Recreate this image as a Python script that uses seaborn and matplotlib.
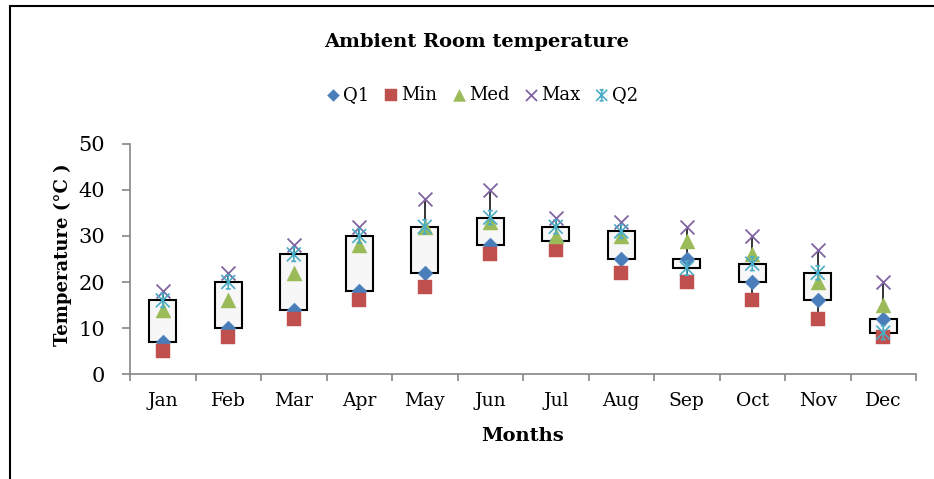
import numpy as np
import pandas as pd
import matplotlib
matplotlib.use("Agg")
import matplotlib.pyplot as plt
from matplotlib.path import Path
from matplotlib.lines import Line2D
import seaborn as sns

# ---- data ----
months = ["Jan", "Feb", "Mar", "Apr", "May", "Jun", "Jul", "Aug", "Sep", "Oct", "Nov", "Dec"]
q1 = [7, 10, 14, 18, 22, 28, 29, 25, 25, 20, 16, 12]
t_min = [5, 8, 12, 16, 19, 26, 27, 22, 20, 16, 12, 8]
t_med = [14, 16, 22, 28, 32, 33, 30, 30, 29, 26, 20, 15]
t_max = [18, 22, 28, 32, 38, 40, 34, 33, 32, 30, 27, 20]
q2 = [16, 20, 26, 30, 32, 34, 32, 31, 23, 24, 22, 9]
yticks = [0, 10, 20, 30, 40, 50]

sns.set_style("white")
plt.rcParams["font.family"] = ["DejaVu Serif"]
plt.rcParams["text.color"] = "black"
plt.rcParams["axes.labelcolor"] = "black"
plt.rcParams["xtick.labelcolor"] = "black"
plt.rcParams["ytick.labelcolor"] = "black"

pos = np.arange(len(months))
df = pd.DataFrame({"pos": pos, "Month": months, "Q1": q1, "Min": t_min,
                   "Med": t_med, "Max": t_max, "Q2": q2})

W, H = 934, 479
fig = plt.figure(figsize=(W / 100, H / 100), dpi=100)
ax = fig.add_axes([130 / W, 1 - 374 / H, (916 - 130) / W, (374 - 144) / H])

# high-low lines
ax.vlines(df["pos"], df["Min"], df["Max"], color="black", linewidth=1.1, zorder=1)
# up-down bars (Q1 to Q2)
lo = np.minimum(df["Q1"], df["Q2"])
hi = np.maximum(df["Q1"], df["Q2"])
ax.bar(df["pos"], hi - lo, bottom=lo, width=0.41, color="#F7F7F7",
       edgecolor="black", linewidth=1.5, zorder=2)

# custom star marker (X + vertical line with caps)
star = Path(
    [(-0.5, -0.5), (0.5, 0.5), (-0.5, 0.5), (0.5, -0.5), (0, -0.5), (0, 0.5),
     (-0.18, 0.5), (0.18, 0.5), (-0.18, -0.5), (0.18, -0.5)],
    [Path.MOVETO, Path.LINETO, Path.MOVETO, Path.LINETO, Path.MOVETO, Path.LINETO,
     Path.MOVETO, Path.LINETO, Path.MOVETO, Path.LINETO])

series = [
    ("Q1", "D", "#4A7EBB", 58, "filled"),
    ("Min", "s", "#C0504D", 109, "filled"),
    ("Med", "^", "#9BBB59", 117, "filled"),
    ("Max", "x", "#8064A2", 100, "line"),
    ("Q2", star, "#4BACC6", 100, "path"),
]
for i, (name, mk, col, size, kind) in enumerate(series):
    if kind == "filled":
        sns.scatterplot(data=df, x="pos", y=name, marker=mk, color=col, s=size,
                        edgecolor=col, linewidth=0.3, ax=ax, label=name, zorder=3 + i)
    elif kind == "line":
        sns.scatterplot(data=df, x="pos", y=name, marker=mk, color=col, s=size,
                        linewidth=1.3, ax=ax, label=name, zorder=3 + i)
    else:
        sns.scatterplot(data=df, x="pos", y=name, marker=mk, color=col, s=size,
                        facecolor="none", edgecolor=col, linewidth=1.2, ax=ax,
                        label=name, zorder=3 + i)

ax.set_xlim(-0.5, len(months) - 0.5)
ax.set_ylim(0, 50)
ax.set_yticks(yticks)
ax.set_yticklabels([str(v) for v in yticks])
ax.set_xticks(pos)
ax.set_xticklabels(months)
ax.set_xticks(np.arange(-0.5, len(months), 1.0), minor=True)

for s in ["top", "right"]:
    ax.spines[s].set_visible(False)
for s in ["left", "bottom"]:
    ax.spines[s].set_color("#868686")
    ax.spines[s].set_linewidth(1.2)

ax.tick_params(axis="y", which="major", direction="out", length=5.8, width=1.2,
               color="#868686", labelcolor="black", labelsize=15, pad=12, left=True)
ax.tick_params(axis="x", which="major", length=0, labelsize=13.5, pad=13,
               labelcolor="black")
ax.tick_params(axis="x", which="minor", direction="out", length=5, width=1.2,
               color="#868686", bottom=True)

ax.set_xlabel("")
ax.set_ylabel("")
fig.text(523 / W, 1 - 436 / H, "Months", ha="center", va="center",
         fontsize=14, fontweight="bold", color="black")
fig.text(63 / W, 1 - 255 / H, "Temperature (°C )", ha="center", va="center",
         rotation=90, fontsize=13, fontweight="bold", color="black")
fig.text(477 / W, 1 - 42 / H, "Ambient Room temperature", ha="center", va="center",
         fontsize=14, fontweight="bold", color="black")

leg = ax.legend(loc="center", bbox_to_anchor=(481 / W, 1 - 95 / H),
                bbox_transform=fig.transFigure,
                ncol=5, frameon=False, handletextpad=0.05, columnspacing=0.7,
                markerscale=0.8, fontsize=13, handlelength=1.0)
for t in leg.get_texts():
    t.set_color("black")

# chart frame lines (left and top)
fig.add_artist(Line2D([9.5 / W, 9.5 / W], [0, 1 - 6 / H], color="black", linewidth=1.5,
                      transform=fig.transFigure))
fig.add_artist(Line2D([9.5 / W, 1], [1 - 6 / H, 1 - 6 / H], color="black", linewidth=1.5,
                      transform=fig.transFigure))

fig.savefig("out.png", dpi=100)
